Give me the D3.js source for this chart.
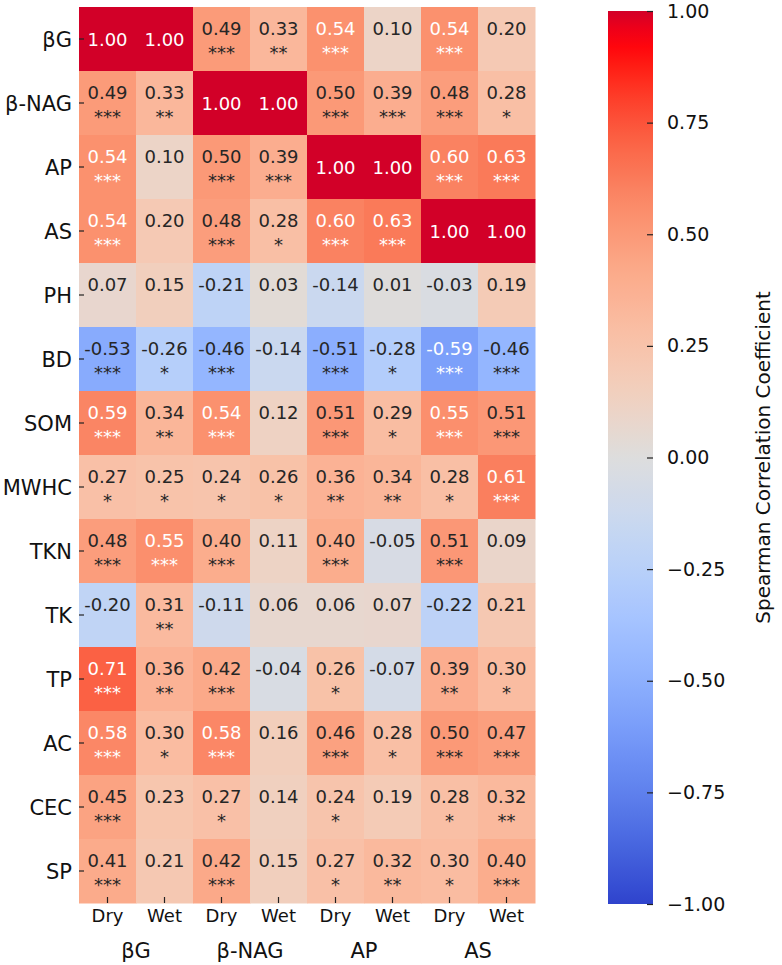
<!DOCTYPE html>
<html>
<head>
<meta charset="utf-8">
<script src="https://cdn.jsdelivr.net/npm/d3@7"></script>
<style>
  body { margin: 0; background: #fff; }
  text { font-family: "DejaVu Sans", sans-serif; }
</style>
</head>
<body>
<svg id="chart" width="782" height="965"></svg>
<script>
// row variables and the column groups (enzyme x season)
const rowLabels = ["βG", "β-NAG", "AP", "AS", "PH", "BD", "SOM", "MWHC", "TKN", "TK", "TP", "AC", "CEC", "SP"];
const enzymes = ["βG", "β-NAG", "AP", "AS"];
const seasons = ["Dry", "Wet"];

// spearman coefficients, one array per row, columns: βG Dry, βG Wet, β-NAG Dry, β-NAG Wet, AP Dry, AP Wet, AS Dry, AS Wet
const rhoBG   = [1.00, 1.00, 0.49, 0.33, 0.54, 0.10, 0.54, 0.20];
const rhoNAG  = [0.49, 0.33, 1.00, 1.00, 0.50, 0.39, 0.48, 0.28];
const rhoAP   = [0.54, 0.10, 0.50, 0.39, 1.00, 1.00, 0.60, 0.63];
const rhoAS   = [0.54, 0.20, 0.48, 0.28, 0.60, 0.63, 1.00, 1.00];
const rhoPH   = [0.07, 0.15, -0.21, 0.03, -0.14, 0.01, -0.03, 0.19];
const rhoBD   = [-0.53, -0.26, -0.46, -0.14, -0.51, -0.28, -0.59, -0.46];
const rhoSOM  = [0.59, 0.34, 0.54, 0.12, 0.51, 0.29, 0.55, 0.51];
const rhoMWHC = [0.27, 0.25, 0.24, 0.26, 0.36, 0.34, 0.28, 0.61];
const rhoTKN  = [0.48, 0.55, 0.40, 0.11, 0.40, -0.05, 0.51, 0.09];
const rhoTK   = [-0.20, 0.31, -0.11, 0.06, 0.06, 0.07, -0.22, 0.21];
const rhoTP   = [0.71, 0.36, 0.42, -0.04, 0.26, -0.07, 0.39, 0.30];
const rhoAC   = [0.58, 0.30, 0.58, 0.16, 0.46, 0.28, 0.50, 0.47];
const rhoCEC  = [0.45, 0.23, 0.27, 0.14, 0.24, 0.19, 0.28, 0.32];
const rhoSP   = [0.41, 0.21, 0.42, 0.15, 0.27, 0.32, 0.30, 0.40];

// significance marks (null = diagonal, no second line)
const sigBG   = [null, null, "***", "**", "***", "", "***", ""];
const sigNAG  = ["***", "**", null, null, "***", "***", "***", "*"];
const sigAP   = ["***", "", "***", "***", null, null, "***", "***"];
const sigAS   = ["***", "", "***", "*", "***", "***", null, null];
const sigPH   = ["", "", "", "", "", "", "", ""];
const sigBD   = ["***", "*", "***", "", "***", "*", "***", "***"];
const sigSOM  = ["***", "**", "***", "", "***", "*", "***", "***"];
const sigMWHC = ["*", "*", "*", "*", "**", "**", "*", "***"];
const sigTKN  = ["***", "***", "***", "", "***", "", "***", ""];
const sigTK   = ["", "**", "", "", "", "", "", ""];
const sigTP   = ["***", "**", "***", "", "*", "", "**", "*"];
const sigAC   = ["***", "*", "***", "", "***", "*", "***", "***"];
const sigCEC  = ["***", "", "*", "", "*", "", "*", "**"];
const sigSP   = ["***", "", "***", "", "*", "**", "*", "***"];

const colorTicks = [1.00, 0.75, 0.50, 0.25, 0.00, -0.25, -0.50, -0.75, -1.00];

const rhoRows = [rhoBG, rhoNAG, rhoAP, rhoAS, rhoPH, rhoBD, rhoSOM, rhoMWHC, rhoTKN, rhoTK, rhoTP, rhoAC, rhoCEC, rhoSP];
const sigRows = [sigBG, sigNAG, sigAP, sigAS, sigPH, sigBD, sigSOM, sigMWHC, sigTKN, sigTK, sigTP, sigAC, sigCEC, sigSP];

let columns = [];
enzymes.forEach(e => seasons.forEach(s => columns.push(e + "|" + s)));

let cells = [];
rhoRows.forEach((vals, i) => {
    vals.forEach((v, j) => {
        cells.push({row: rowLabels[i], col: columns[j], value: v, sig: sigRows[i][j]});
    });
});

// matplotlib coolwarm (Moreland table)
const cwColors = ["#3b4cc0", "#445acc", "#4d68d7", "#5775e1", "#6282ea", "#6c8ef1", "#779af7", "#82a5fb",
                  "#8db0fe", "#98b9ff", "#a3c2ff", "#aec9fd", "#b8d0f9", "#c2d5f4", "#ccd9ee", "#d5dbe6",
                  "#dddddd", "#e5d8d1", "#ecd3c5", "#f1ccb9", "#f5c4ad", "#f7bba0", "#f7b194", "#f7a687",
                  "#f49a7b", "#f18d6f", "#ec7f63", "#e57058", "#de604d", "#d55042", "#cb3e38", "#c0282f", "#b40426"];
const cwStops = cwColors.map((c, i) => -1 + 2 * i / (cwColors.length - 1));
const baseColor = d3.scaleLinear().domain(cwStops).range(cwColors).interpolate(d3.interpolateRgb);

// the printed figure is more saturated than plain coolwarm, mostly on the red side
function color(v) {
    let c = d3.hsl(baseColor(v));
    if (v > 0) {
        c.s = c.s + (1 - c.s) * Math.min(1, 1.2 * v);
        c.l = c.l + 0.05 * v * v * v;
    } else {
        c.s = c.s + (1 - c.s) * 0.2 * Math.abs(v);
    }
    return c.formatRgb();
}

// seaborn picks white or dark text from the cell luminance (of the plain colormap)
function textColor(v) {
    let c = d3.rgb(baseColor(v));
    let lin = x => { x = x / 255; return x <= 0.03928 ? x / 12.92 : Math.pow((x + 0.055) / 1.055, 2.4); };
    let lum = 0.2126 * lin(c.r) + 0.7152 * lin(c.g) + 0.0722 * lin(c.b);
    return lum <= 0.41 ? "#ffffff" : "#262626";
}

let svg = d3.select("#chart");
let box = {left: 79, right: 535, top: 7, bottom: 903};

let xScale = d3.scaleBand().domain(columns).range([box.left, box.right]);
let yScale = d3.scaleBand().domain(rowLabels).range([box.top, box.bottom]);

let cellG = svg.append("g").selectAll("g")
    .data(cells)
    .enter().append("g")
    .attr("transform", d => "translate(" + xScale(d.col) + "," + yScale(d.row) + ")");

cellG.append("rect")
    .attr("width", xScale.bandwidth() + 0.5)
    .attr("height", yScale.bandwidth() + 0.5)
    .attr("fill", d => color(d.value));

let cx = xScale.bandwidth() / 2, cy = yScale.bandwidth() / 2;

cellG.append("text")
    .attr("x", cx)
    .attr("y", d => d.sig === null ? cy + 6.5 : cy - 4.5)
    .attr("text-anchor", "middle")
    .attr("font-size", "18px")
    .attr("fill", d => textColor(d.value))
    .text(d => d.value.toFixed(2));

cellG.filter(d => d.sig)
    .append("text")
    .attr("x", cx)
    .attr("y", cy + 20)
    .attr("text-anchor", "middle")
    .attr("font-size", "18px")
    .attr("fill", d => textColor(d.value))
    .text(d => d.sig);

// row axis, ticks pointing into the map like the figure
let yAxis = svg.append("g");
yAxis.selectAll("line")
    .data(rowLabels)
    .enter().append("line")
    .attr("x1", box.left).attr("x2", box.left + 5)
    .attr("y1", d => yScale(d) + cy).attr("y2", d => yScale(d) + cy)
    .attr("stroke", "#222").attr("stroke-width", 1.2);
yAxis.selectAll("text")
    .data(rowLabels)
    .enter().append("text")
    .attr("x", box.left - 7)
    .attr("y", d => yScale(d) + cy + 7.5)
    .attr("text-anchor", "end")
    .attr("font-size", "21px")
    .attr("fill", "#111")
    .text(d => d);

// column axis: seasons then enzymes
let xAxis = svg.append("g");
xAxis.selectAll("line")
    .data(columns)
    .enter().append("line")
    .attr("x1", d => xScale(d) + cx).attr("x2", d => xScale(d) + cx)
    .attr("y1", box.bottom).attr("y2", box.bottom - 6)
    .attr("stroke", "#222").attr("stroke-width", 1.2);
xAxis.selectAll("text.season")
    .data(columns)
    .enter().append("text")
    .attr("class", "season")
    .attr("x", d => xScale(d) + cx)
    .attr("y", 922)
    .attr("text-anchor", "middle")
    .attr("font-size", "18px")
    .attr("fill", "#111")
    .text(d => d.split("|")[1]);
xAxis.selectAll("text.enzyme")
    .data(enzymes)
    .enter().append("text")
    .attr("class", "enzyme")
    .attr("x", d => xScale(d + "|" + seasons[0]) + xScale.bandwidth())
    .attr("y", 958)
    .attr("text-anchor", "middle")
    .attr("font-size", "21px")
    .attr("fill", "#111")
    .text(d => d);

// colour bar
let cbLeft = 608, cbWidth = 45, cbTop = 11, cbBottom = 904;
let cbScale = d3.scaleLinear().domain([-1, 1]).range([cbBottom, cbTop]);

let grad = svg.append("defs").append("linearGradient")
    .attr("id", "cbGrad")
    .attr("x1", 0).attr("y1", 1).attr("x2", 0).attr("y2", 0);
grad.selectAll("stop")
    .data(d3.range(0, 1.0001, 0.02))
    .enter().append("stop")
    .attr("offset", d => d)
    .attr("stop-color", d => color(d * 2 - 1));

svg.append("rect")
    .attr("x", cbLeft).attr("y", cbTop)
    .attr("width", cbWidth).attr("height", cbBottom - cbTop)
    .attr("fill", "url(#cbGrad)");

let cbAxis = d3.axisRight(cbScale)
    .tickValues(colorTicks)
    .tickSize(-6)
    .tickPadding(14)
    .tickFormat(d => d3.format(".2f")(d).replace("-", "\u2212"));

let cbG = svg.append("g")
    .attr("transform", "translate(" + (cbLeft + cbWidth) + ",0)")
    .call(cbAxis);
cbG.select(".domain").remove();
cbG.selectAll(".tick line").attr("stroke", "#222").attr("stroke-width", 1.2);
cbG.selectAll(".tick text")
    .attr("font-size", "19px")
    .attr("font-family", "DejaVu Sans, sans-serif")
    .attr("fill", "#111");

svg.append("text")
    .attr("transform", "translate(770," + ((cbTop + cbBottom) / 2) + ") rotate(-90)")
    .attr("text-anchor", "middle")
    .attr("font-size", "20px")
    .attr("fill", "#111")
    .text("Spearman Correlation Coefficient");
</script>
</body>
</html>
